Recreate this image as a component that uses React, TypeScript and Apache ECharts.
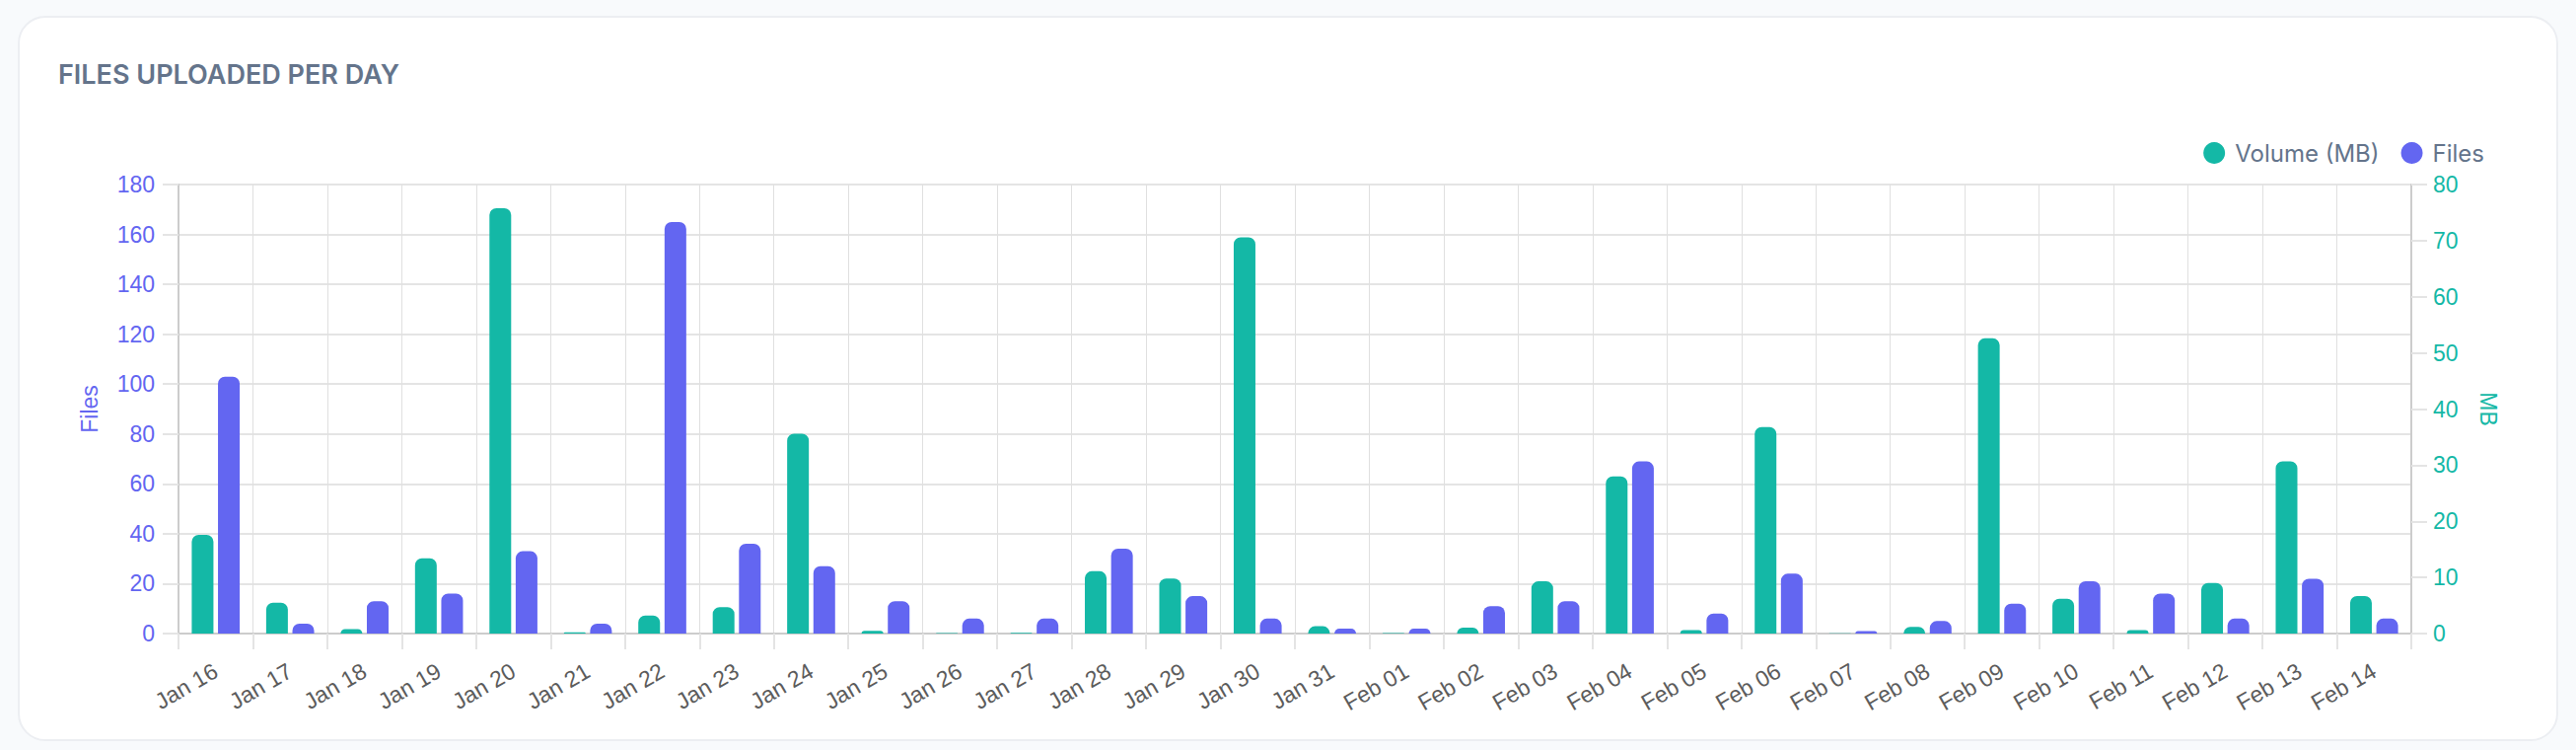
import React, { useEffect, useRef } from "react";
import * as echarts from "echarts";

const categories = [
  "Jan 16", "Jan 17", "Jan 18", "Jan 19", "Jan 20", "Jan 21", "Jan 22", "Jan 23", "Jan 24", "Jan 25",
  "Jan 26", "Jan 27", "Jan 28", "Jan 29", "Jan 30", "Jan 31", "Feb 01", "Feb 02", "Feb 03", "Feb 04",
  "Feb 05", "Feb 06", "Feb 07", "Feb 08", "Feb 09", "Feb 10", "Feb 11", "Feb 12", "Feb 13", "Feb 14",
];

const volumeMB = [
  17.6, 5.5, 0.8, 13.4, 75.8, 0.2, 3.2, 4.7, 35.6, 0.5,
  0.1, 0.15, 11.1, 9.8, 70.6, 1.3, 0.1, 1.05, 9.3, 28.0,
  0.6, 36.8, 0.05, 1.2, 52.6, 6.2, 0.6, 9.0, 30.7, 6.7,
];

const files = [
  103, 4, 13, 16, 33, 4, 165, 36, 27, 13,
  6, 6, 34, 15, 6, 2, 2, 11, 13, 69,
  8, 24, 1, 5, 12, 21, 16, 6, 22, 6,
];

const title = "FILES UPLOADED PER DAY";
const legendNames = ["Volume (MB)", "Files"];

const TEAL = "#14b8a6";
const INDIGO = "#6366f1";
const SLATE = "#64748b";
const GRID = "#e4e4e4";
const AXIS = "#cccccc";
const LABEL_FONT = "'Liberation Sans', Arial, sans-serif";

function Chart() {
  const ref = useRef<HTMLDivElement>(null);
  useEffect(() => {
    if (!ref.current) return;
    const chart = echarts.init(ref.current, undefined, { renderer: "svg" });
    chart.setOption({
      animation: false,
      title: {
        text: title,
        left: 59,
        top: 62,
        padding: 0,
        textStyle: {
          fontFamily: "Inter",
          fontWeight: 600,
          fontSize: 27,
          color: SLATE,
        },
      },
      legend: {
        data: legendNames,
        right: 88,
        top: 138,
        icon: "circle",
        itemWidth: 22,
        itemHeight: 22,
        itemGap: 22,
        textStyle: {
          fontFamily: "Inter",
          fontSize: 24,
          color: SLATE,
          padding: [0, 0, 0, 5],
        },
      },
      grid: {
        left: 181,
        right: 167,
        top: 187,
        bottom: 118,
        containLabel: false,
      },
      xAxis: {
        type: "category",
        data: categories,
        boundaryGap: true,
        axisLine: { show: true, lineStyle: { color: AXIS, width: 2 } },
        axisTick: { show: true, length: 16, lineStyle: { color: GRID, width: 2 } },
        splitLine: { show: true, lineStyle: { color: "#e0e0e0", width: 1 } },
        axisLabel: {
          rotate: 30,
          margin: 36,
          fontSize: 23,
          fontFamily: LABEL_FONT,
          color: "#5c5c5c",
          interval: 0,
        },
      },
      yAxis: [
        {
          type: "value",
          position: "left",
          min: 0,
          max: 180,
          interval: 20,
          name: "Files",
          nameLocation: "middle",
          nameGap: 79,
          nameTextStyle: { color: INDIGO, fontSize: 23, fontFamily: LABEL_FONT },
          axisLine: { show: true, lineStyle: { color: AXIS, width: 2 } },
          axisTick: { show: true, length: 16, lineStyle: { color: GRID, width: 2 } },
          axisLabel: { margin: 24, fontSize: 23, fontFamily: LABEL_FONT, color: INDIGO },
          splitLine: { show: true, lineStyle: { color: GRID, width: 2 } },
        },
        {
          type: "value",
          position: "right",
          min: 0,
          max: 80,
          interval: 10,
          name: "MB",
          nameLocation: "middle",
          nameRotate: -90,
          nameGap: 66,
          nameTextStyle: { color: TEAL, fontSize: 23, fontFamily: LABEL_FONT },
          axisLine: { show: true, lineStyle: { color: AXIS, width: 2 } },
          axisTick: { show: true, length: 16, lineStyle: { color: GRID, width: 2 } },
          axisLabel: { margin: 22, fontSize: 23, fontFamily: LABEL_FONT, color: TEAL },
          splitLine: { show: false },
        },
      ],
      series: [
        {
          name: legendNames[0],
          type: "bar",
          yAxisIndex: 1,
          data: volumeMB,
          barWidth: 22,
          barGap: "21%",
          itemStyle: { color: TEAL, borderRadius: [7, 7, 0, 0] },
        },
        {
          name: legendNames[1],
          type: "bar",
          yAxisIndex: 0,
          data: files,
          barWidth: 22,
          barGap: "21%",
          itemStyle: { color: INDIGO, borderRadius: [7, 7, 0, 0] },
        },
      ],
    });
    return () => chart.dispose();
  }, []);
  return (
    <div
      ref={ref}
      style={{ position: "absolute", left: 0, top: 0, width: 2612, height: 760 }}
    />
  );
}

export default function App() {
  return (
    <div
      style={{
        position: "fixed",
        left: 0,
        top: 0,
        width: 2612,
        height: 760,
        background: "#f8fafc",
        overflow: "hidden",
      }}
    >
      <div
        style={{
          position: "absolute",
          left: 18,
          top: 16,
          width: 2576,
          height: 735,
          boxSizing: "border-box",
          background: "#ffffff",
          border: "2px solid #eceef2",
          borderRadius: 28,
        }}
      />
      <Chart />
    </div>
  );
}
